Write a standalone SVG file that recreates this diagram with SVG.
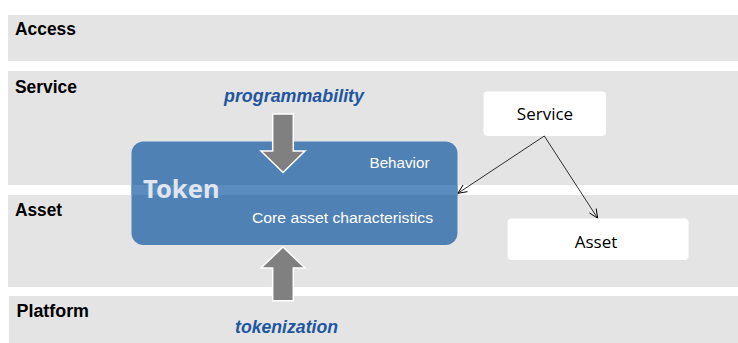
<svg xmlns="http://www.w3.org/2000/svg" width="738" height="343" viewBox="0 0 738 343">
<style>
.band{fill:#e4e4e4}
.lbl{font-family:"Liberation Sans",Arial,sans-serif;font-weight:bold;font-size:17.5px;fill:#000}
.verb{font-family:"Liberation Sans",Arial,sans-serif;font-weight:bold;font-style:italic;font-size:17.8px;fill:#1f56a0}
.inner{font-family:"Liberation Sans",Arial,sans-serif;font-size:15.5px;fill:#ffffff}
.node{fill:#ffffff}
.ntext{font-family:"Open Sans","Noto Sans",sans-serif;font-size:17px;fill:#000;text-anchor:middle}
.bigarrow{fill:#808080;stroke:#ffffff;stroke-width:1.5}
.conn{stroke:#000;stroke-width:0.8;fill:none;marker-end:url(#open)}
</style>
<defs>
<marker id="open" viewBox="0 0 10 10" refX="10" refY="5" markerWidth="10" markerHeight="10" markerUnits="userSpaceOnUse" orient="auto">
<path d="M1,1 L10,5 L1,9" fill="none" stroke="#000" stroke-width="0.9"/>
</marker>
</defs>
<rect width="738" height="343" fill="#ffffff"/>
<g id="bands">
<rect class="band" x="8" y="15" width="730" height="46"/>
<rect class="band" x="8" y="71" width="730" height="114"/>
<rect class="band" x="8" y="195" width="730" height="92"/>
<rect class="band" x="9" y="296" width="729" height="47"/>
<text class="lbl" x="15" y="35" textLength="61" lengthAdjust="spacingAndGlyphs">Access</text>
<text class="lbl" x="15" y="92.5" textLength="62" lengthAdjust="spacingAndGlyphs">Service</text>
<text class="lbl" x="15" y="216" textLength="47" lengthAdjust="spacingAndGlyphs">Asset</text>
<text class="lbl" x="16.5" y="316.5" textLength="72.5" lengthAdjust="spacingAndGlyphs">Platform</text>
</g>
<g id="token">
<rect x="131.5" y="141.5" width="326" height="103.5" rx="12" fill="#4f81b5"/>
<rect x="131.5" y="185" width="326" height="10" fill="#5a8cc0"/>
<text x="143" y="198" font-family="'Noto Sans','Open Sans',sans-serif" font-weight="bold" font-size="25.5" fill="#dfe6ef">Token</text>
<text class="inner" x="369.5" y="167.5" textLength="60" lengthAdjust="spacingAndGlyphs">Behavior</text>
<text class="inner" x="252" y="223" textLength="181" lengthAdjust="spacingAndGlyphs">Core asset characteristics</text>
</g>
<g id="programmability">
<polygon class="bigarrow" points="272.7,114 293.3,114 293.3,151 305,151 283,172.5 261,151 272.7,151"/>
<text class="verb" x="224" y="101.5" textLength="140" lengthAdjust="spacingAndGlyphs">programmability</text>
</g>
<g id="tokenization">
<polygon class="bigarrow" points="283,247 305,268 293.3,268 293.3,300.7 272.7,300.7 272.7,268 261,268"/>
<text class="verb" x="235" y="332.5" textLength="103" lengthAdjust="spacingAndGlyphs">tokenization</text>
</g>
<g id="service">
<rect class="node" x="483.5" y="91.5" width="122.5" height="44.5" rx="4"/>
<text class="ntext" x="545" y="119.5">Service</text>
</g>
<g id="asset">
<rect class="node" x="507.5" y="218.5" width="181" height="41.5" rx="4"/>
<text class="ntext" x="596" y="248">Asset</text>
</g>
<g id="connectors">
<line class="conn" x1="544.3" y1="136" x2="457.8" y2="193.3"/>
<line class="conn" x1="544.3" y1="136" x2="597.7" y2="218.3"/>
</g>
</svg>
